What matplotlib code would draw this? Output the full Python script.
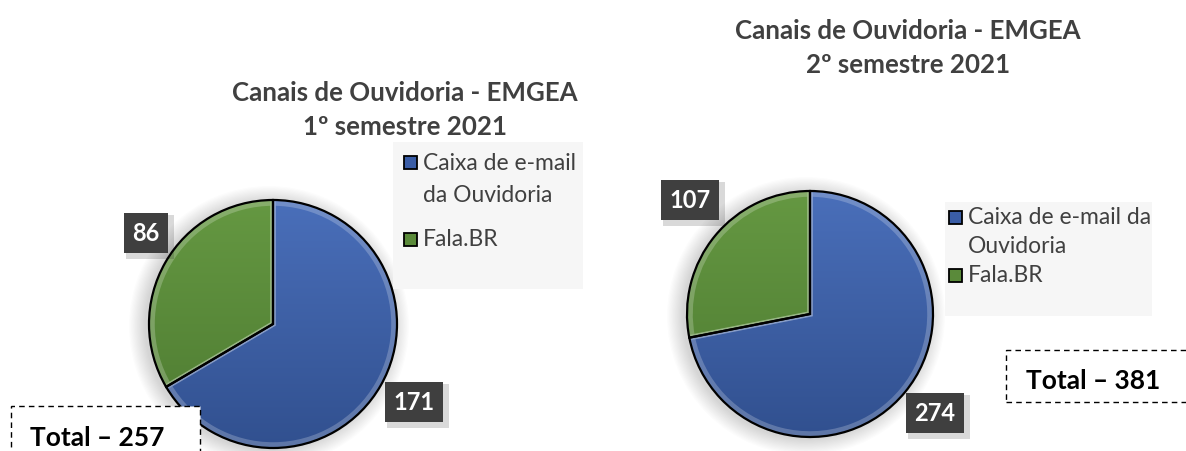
import numpy as np
import matplotlib
matplotlib.use("Agg")
import matplotlib.pyplot as plt
from matplotlib.patches import Rectangle, Circle

plt.rcParams['font.family'] = ['Lato', 'DejaVu Sans']

# ---- data ----
categories = ["Caixa de e-mail da Ouvidoria", "Fala.BR"]
values_s1 = [171, 86]
values_s2 = [274, 107]
title_s1 = "Canais de Ouvidoria - EMGEA\n1º semestre 2021"
title_s2 = "Canais de Ouvidoria - EMGEA\n2º semestre 2021"
legend_s1 = [["Caixa de e-mail", "da Ouvidoria"], ["Fala.BR"]]
legend_s2 = [["Caixa de e-mail da", "Ouvidoria"], ["Fala.BR"]]
total_s1 = "Total – 257"
total_s2 = "Total – 381"

colors = ["#3A5DA6", "#5A8A3A"]
grad_top = ["#4A6FBA", "#659842"]
grad_bot = ["#31508F", "#4D7A31"]
text_gray = "#404040"

W, H = 1186, 452
fig = plt.figure(figsize=(W / 100, H / 100), dpi=100)
ax = fig.add_axes([0, 0, 1, 1])
ax.set_xlim(0, W)
ax.set_ylim(0, H)
ax.axis("off")


def Y(y):
    return H - y


def draw_pie(values, cx, cy, r, label_pos):
    # soft shadow haze
    for i in range(14):
        ax.add_patch(Circle((cx - 4, Y(cy) - 2), r + 16 - i * 1.2, color="black",
                            alpha=0.012, lw=0, zorder=1))
    total = sum(values)
    wedges, _ = ax.pie(values, colors=colors, startangle=90, counterclock=False,
                       center=(cx, Y(cy)), radius=r,
                       wedgeprops=dict(edgecolor="black", linewidth=1.6))
    for k, w in enumerate(wedges):
        # vertical gradient clipped to wedge
        c1 = np.array(matplotlib.colors.to_rgb(grad_top[k]))
        c2 = np.array(matplotlib.colors.to_rgb(grad_bot[k]))
        t = np.linspace(0, 1, 200)[:, None]
        img = (c1 * (1 - t) + c2 * t)[:, None, :].repeat(2, axis=1)
        im = ax.imshow(img, extent=(cx - r, cx + r, Y(cy) - r, Y(cy) + r),
                       origin="upper", zorder=3.5, aspect="auto")
        im.set_clip_path(w)
        # inner bevel highlight
        hw, _ = ax.pie([values[k], total - values[k]], radius=r - 3, center=(cx, Y(cy)),
                       startangle=90 - 360 * sum(values[:k]) / total, counterclock=False,
                       colors=["none", "none"],
                       wedgeprops=dict(edgecolor=(1, 1, 1, 0.22), linewidth=4))
        hw[0].set_zorder(3.8)
        hw[1].set_visible(False)
        w.set_facecolor("none")
        w.set_zorder(4)
    for v, (lx, ly) in zip(values, label_pos):
        bw = 20 + 14 * len(str(v))
        ax.add_patch(Rectangle((lx - bw / 2 + 4, Y(ly) - 22 - 4), bw, 44,
                               fc=(0, 0, 0, 0.15), ec="none", zorder=4.5))
        ax.text(lx, Y(ly), str(v), ha="center", va="center", fontsize=17,
                fontweight="bold", color="white", zorder=5,
                bbox=dict(boxstyle="square,pad=0.35", fc="#3F3F3F", ec="none"))


draw_pie(values_s1, 273, 325, 124, [(414, 403), (146, 234)])
draw_pie(values_s2, 810, 315, 123, [(935, 414), (690, 201)])

ax.set_xlim(0, W)
ax.set_ylim(0, H)
ax.set_aspect("auto")

# titles
ax.text(405, Y(110), title_s1, ha="center", va="center", fontsize=18.6,
        fontweight="bold", color=text_gray, linespacing=1.5)
ax.text(908, Y(48), title_s2, ha="center", va="center", fontsize=18.6,
        fontweight="bold", color=text_gray, linespacing=1.5)


def legend(x0, y0, x1, y1, sq_x, entries, ys):
    ax.add_patch(Rectangle((x0, Y(y1)), x1 - x0, y1 - y0, fc="#F6F6F6", ec="none", zorder=2))
    for lines, col, yl in zip(entries, colors, ys):
        ax.add_patch(Rectangle((sq_x, Y(yl[0]) - 6.5), 13, 13, fc=col, ec="black",
                               lw=1.3, zorder=6))
        for line, yy in zip(lines, yl):
            ax.text(sq_x + 19 if line == lines[0] else sq_x + 19, Y(yy), line,
                    ha="left", va="center", fontsize=16.5, color=text_gray, zorder=6)


legend(393, 143, 583, 290, 404, legend_s1, [[163, 196], [240]])
legend(945, 203, 1152, 317, 949, legend_s2, [[218, 247], [276]])

# total boxes
ax.add_patch(Rectangle((11, Y(470)), 189, 63, fc="white", ec="black", lw=1.0,
                       ls=(0, (4, 3)), zorder=6))
ax.text(97, Y(438), total_s1, ha="center", va="center", fontsize=19, fontweight="bold",
        color="black", zorder=7)
ax.add_patch(Rectangle((1006, Y(403)), 200, 52, fc="white", ec="black", lw=1.0,
                       ls=(0, (4, 3)), zorder=6))
ax.text(1093, Y(381), total_s2, ha="center", va="center", fontsize=19, fontweight="bold",
        color="black", zorder=7)

fig.savefig("out.png", dpi=100)
